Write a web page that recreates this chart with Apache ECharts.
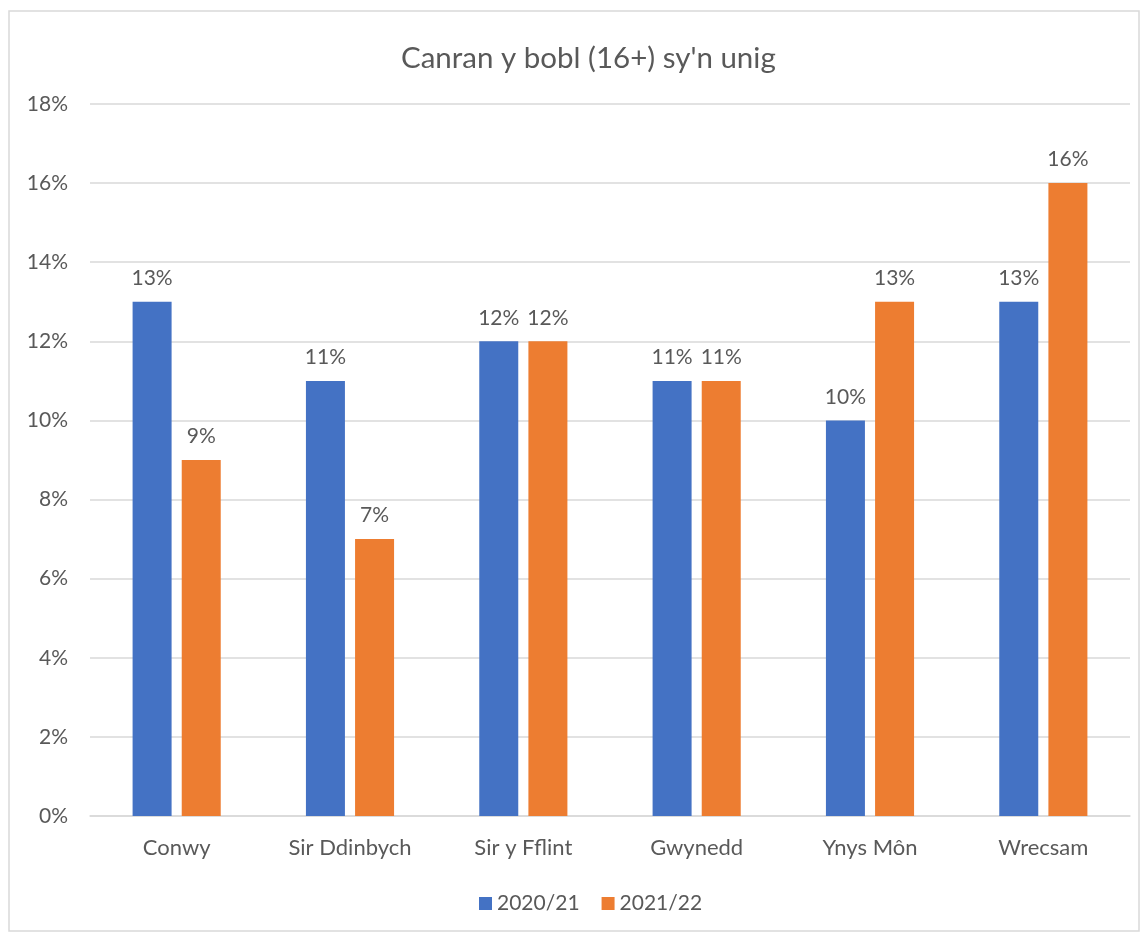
<!DOCTYPE html>
<html>
<head>
<meta charset="utf-8">
<script src="https://cdn.jsdelivr.net/npm/echarts@6/dist/echarts.min.js"></script>
<style>
html,body{margin:0;padding:0;background:#fff;}
#c{width:1147px;height:938px;}
</style>
</head>
<body>
<div id="c"></div>
<script>
const categories = ["Conwy", "Sir Ddinbych", "Sir y Fflint", "Gwynedd", "Ynys Môn", "Wrecsam"];
const series2020 = [13, 11, 12, 11, 10, 13];
const series2021 = [9, 7, 12, 11, 13, 16];
const seriesNames = ["2020/21", "2021/22"];
const titleText = "Canran y bobl (16+) sy'n unig";

const FONT = "Lato, 'Open Sans', sans-serif";
const TXT = "#595959";
const chart = echarts.init(document.getElementById('c'));
chart.setOption({
  animation: false,
  textStyle: {fontFamily: FONT},
  title: {
    text: titleText, left: 396, top: 38,
    textStyle: {fontFamily: FONT, fontSize: 29.5, fontWeight: 'normal', color: TXT}
  },
  graphic: [{
    type: 'rect', shape: {x: 9, y: 11, width: 1130, height: 920},
    style: {fill: 'none', stroke: '#d9d9d9', lineWidth: 1.5}, silent: true, z: -1
  }],
  legend: {
    data: seriesNames, bottom: 19, left: 474,
    itemWidth: 13, itemHeight: 13, itemGap: 22,
    icon: 'rect',
    textStyle: {fontFamily: FONT, fontSize: 21, color: TXT}
  },
  grid: {left: 90, right: 17, top: 104, bottom: 122, containLabel: false},
  xAxis: {
    type: 'category', data: categories,
    axisLine: {lineStyle: {color: '#d9d9d9', width: 1.5}},
    axisTick: {show: false},
    axisLabel: {fontFamily: FONT, fontSize: 22, color: TXT, margin: 21}
  },
  yAxis: {
    type: 'value', min: 0, max: 18, interval: 2,
    axisLine: {show: false}, axisTick: {show: false},
    splitLine: {lineStyle: {color: '#d9d9d9', width: 1.5}},
    axisLabel: {fontFamily: FONT, fontSize: 21, color: TXT, margin: 22, formatter: v => v + '%'}
  },
  series: [
    {
      name: seriesNames[0], type: 'bar', data: series2020,
      barWidth: 39, barGap: '26%',
      itemStyle: {color: '#4472c4'},
      label: {show: true, position: 'top', distance: 13, formatter: p => p.value + '%',
        fontFamily: FONT, fontSize: 21, color: TXT}
    },
    {
      name: seriesNames[1], type: 'bar', data: series2021,
      barWidth: 39, barGap: '26%',
      itemStyle: {color: '#ed7d31'},
      label: {show: true, position: 'top', distance: 13, formatter: p => p.value + '%',
        fontFamily: FONT, fontSize: 21, color: TXT}
    }
  ]
});
</script>
</body>
</html>
